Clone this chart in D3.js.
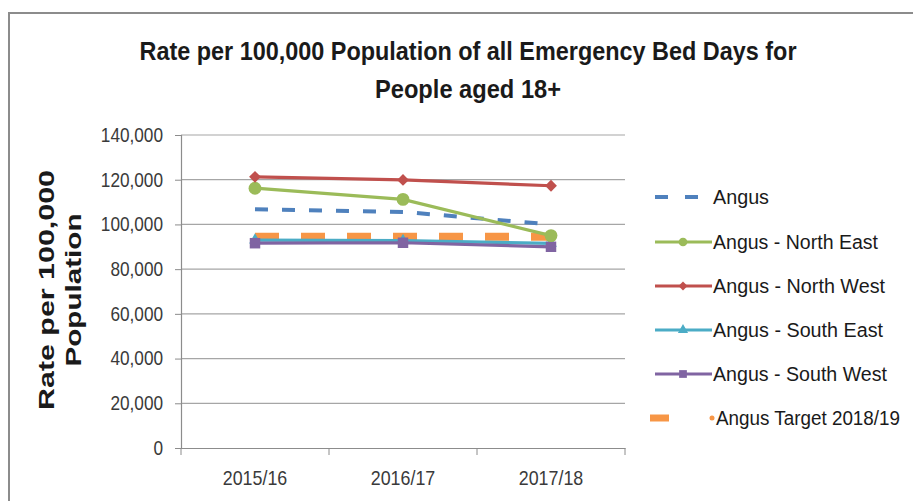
<!DOCTYPE html>
<html><head><meta charset="utf-8">
<script src="https://cdn.jsdelivr.net/npm/d3@7"></script>
<style>body{margin:0;background:#fff}svg{display:block}text{font-family:"Liberation Sans",Arial,sans-serif}</style>
</head><body>
<script>
const categories = ["2015/16","2016/17","2017/18"];
const angus      = [106800, 105600, 100000];
const northEast  = [116200, 111200, 95000];
const northWest  = [121300, 119900, 117300];
const southEast  = [93000, 92800, 91500];
const southWest  = [91600, 91800, 90000];
const target     = [94500, 94500, 94500];
const yTicks     = [0,20000,40000,60000,80000,100000,120000,140000];
const seriesNames = ["Angus","Angus - North East","Angus - North West","Angus - South East","Angus - South West","Angus Target 2018/19"];
const titleLines = ["Rate per 100,000 Population of all Emergency Bed Days for","People aged 18+"];
const yTitleLines = ["Rate per 100,000","Population"];

const W=913,H=501;
const svg=d3.select("body").append("svg").attr("width",W).attr("height",H);
svg.append("rect").attr("x",9).attr("y",13).attr("width",W).attr("height",H).attr("fill","#fff").attr("stroke","#8c8c8c").attr("stroke-width",2);

const x=d3.scaleBand().domain(categories).range([181,625]);
const y=d3.scaleLinear().domain([0,140000]).range([448,135]);
const cx=c=>x(c)+x.bandwidth()/2;
function condense(sel,f){sel.each(function(){const w=this.getComputedTextLength();d3.select(this).attr("textLength",w*f).attr("lengthAdjust","spacingAndGlyphs");});}

// gridlines
svg.append("g").selectAll("line").data(yTicks.filter(d=>d>0)).join("line")
  .attr("x1",181).attr("x2",625).attr("y1",d=>y(d)).attr("y2",d=>y(d))
  .attr("stroke","#a6a6a6").attr("stroke-width",1.2);

// y axis
const ya=svg.append("g").attr("transform","translate(181,0)")
  .call(d3.axisLeft(y).tickValues(yTicks).tickSize(6).tickPadding(12).tickFormat(d3.format(",")));
ya.select(".domain").attr("stroke","#8c8c8c").attr("stroke-width",1.2);
ya.selectAll(".tick line").attr("stroke","#8c8c8c");
ya.selectAll("text").attr("font-size",20).attr("fill","#3a3a3a").attr("font-family","Liberation Sans, Arial");
condense(ya.selectAll("text"),0.86);

// x axis
const xa=svg.append("g").attr("transform","translate(0,448)")
  .call(d3.axisBottom(x).tickSize(0).tickPadding(22));
xa.select(".domain").attr("stroke","#8c8c8c").attr("stroke-width",1.2);
xa.selectAll("text").attr("font-size",21).attr("fill","#3a3a3a").attr("font-family","Liberation Sans, Arial");
condense(xa.selectAll("text"),0.85);
const bnd=categories.map(c=>x(c)).concat([x(categories[2])+x.bandwidth()]);
svg.append("g").selectAll("line").data(bnd).join("line")
  .attr("x1",d=>d).attr("x2",d=>d).attr("y1",448).attr("y2",455).attr("stroke","#8c8c8c");

const line=d3.line().x((d,i)=>cx(categories[i])).y(d=>y(d));
const colors={angus:"#4f81bd",ne:"#9bbb59",nw:"#c0504d",se:"#4bacc6",sw:"#8064a2",tg:"#f79646"};

// target
svg.append("path").attr("d",line(target)).attr("fill","none").attr("stroke",colors.tg)
  .attr("stroke-width",8).attr("stroke-dasharray","24,22");
const g=svg.append("g");
function series(vals,col,marker){
  g.append("path").attr("d",line(vals)).attr("fill","none").attr("stroke",col).attr("stroke-width",3.2);
  const sym=d3.symbol().type(marker.type).size(marker.size);
  g.selectAll(null).data(vals).join("path")
    .attr("transform",(d,i)=>`translate(${cx(categories[i])},${y(d)})${marker.rot?" rotate(45)":""}`)
    .attr("d",sym).attr("fill",col);
}
series(southEast,colors.se,{type:d3.symbolTriangle,size:60});
series(southWest,colors.sw,{type:d3.symbolSquare,size:110});
// angus dashed
g.append("path").attr("d",line(angus)).attr("fill","none").attr("stroke",colors.angus)
  .attr("stroke-width",4).attr("stroke-dasharray","13,14");
series(northEast,colors.ne,{type:d3.symbolCircle,size:130});
series(northWest,colors.nw,{type:d3.symbolSquare,size:70,rot:true});

// Title
svg.append("g").selectAll("text").data(titleLines).join("text")
  .attr("x",468).attr("y",(d,i)=>60+i*38).attr("text-anchor","middle")
  .attr("font-size",25).attr("font-weight","bold").attr("fill","#1a1a1a")
  .attr("textLength",(d,i)=>i===0?657:186).attr("lengthAdjust","spacingAndGlyphs").text(d=>d);

// y title
svg.append("g").selectAll("text").data(yTitleLines).join("text")
  .attr("transform",(d,i)=>`translate(${54+i*27},290) rotate(-90)`).attr("text-anchor","middle")
  .attr("font-size",22).attr("font-weight","bold").attr("fill","#1a1a1a")
  .attr("textLength",(d,i)=>i===0?240:153).attr("lengthAdjust","spacingAndGlyphs").text(d=>d);

// Legend
const legY=[197,242,286,330,374,418];
const legW=[56,165,172,170,174,184];
const lg=svg.append("g");
const legCols=[colors.angus,colors.ne,colors.nw,colors.se,colors.sw,colors.tg];
lg.selectAll("text").data(seriesNames).join("text")
  .attr("x",(d,i)=>i===5?716:713).attr("y",(d,i)=>legY[i]+7).attr("font-size",20).attr("fill","#1a1a1a")
  .attr("textLength",(d,i)=>legW[i]).attr("lengthAdjust","spacingAndGlyphs").text(d=>d);
lg.append("line").attr("x1",655).attr("x2",698).attr("y1",legY[0]).attr("y2",legY[0])
  .attr("stroke",colors.angus).attr("stroke-width",4).attr("stroke-dasharray","13,17");
const mk=[null,{type:d3.symbolCircle,size:60},{type:d3.symbolSquare,size:40,rot:true},{type:d3.symbolTriangle,size:45},{type:d3.symbolSquare,size:60}];
for(let i=1;i<5;i++){
  lg.append("line").attr("x1",655).attr("x2",712).attr("y1",legY[i]).attr("y2",legY[i]).attr("stroke",legCols[i]).attr("stroke-width",3);
  lg.append("path").attr("transform",`translate(683,${legY[i]})${mk[i].rot?" rotate(45)":""}`)
    .attr("d",d3.symbol().type(mk[i].type).size(mk[i].size)).attr("fill",legCols[i]);
}
lg.append("line").attr("x1",650).attr("x2",669).attr("y1",legY[5]).attr("y2",legY[5]).attr("stroke",colors.tg).attr("stroke-width",7);
lg.append("circle").attr("cx",712).attr("cy",legY[5]).attr("r",2.5).attr("fill",colors.tg);
</script>
</body></html>
